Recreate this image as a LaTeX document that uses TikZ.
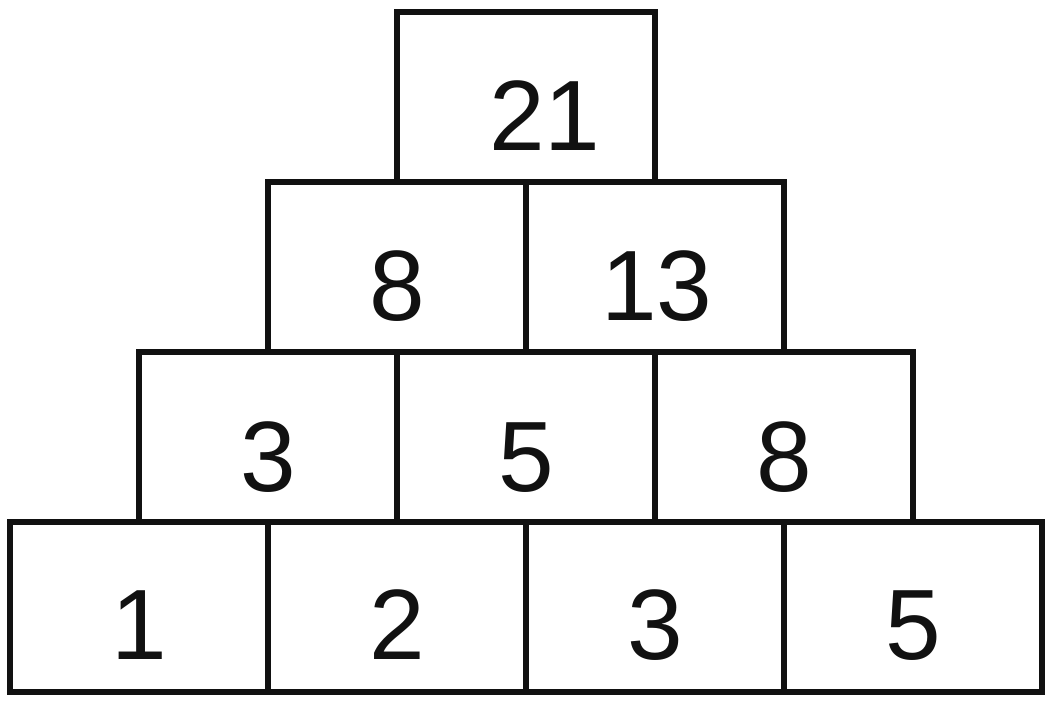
\documentclass[tikz,border=0pt]{standalone}
\usepackage{fontspec}
\setmainfont{Liberation Sans}
\definecolor{ink}{HTML}{111111}
\begin{document}
\begin{tikzpicture}[x=1pt,y=-1pt,
  brick/.style={draw=ink, line width=6pt, rectangle, minimum width=258pt, minimum height=170pt, inner sep=0pt, outer sep=0pt},
  num/.style={anchor=base, text=ink, inner sep=0pt, font=\fontsize{100}{100}\selectfont}]
\useasboundingbox (0,0) rectangle (1056,704);
% bottom row
\node[brick] (b1) at (139,607) {};
\node[brick] (b2) at (397,607) {};
\node[brick] (b3) at (655,607) {};
\node[brick] (b4) at (913,607) {};
% third row
\node[brick] (c1) at (268,437) {};
\node[brick] (c2) at (526,437) {};
\node[brick] (c3) at (784,437) {};
% second row
\node[brick] (d1) at (397,267) {};
\node[brick] (d2) at (655,267) {};
% top
\node[brick] (e1) at (526,97) {};
% numbers
\node[num] (t21) at ([xshift=19pt,yshift=32pt]e1.south) {21};
\node[num] (t8a) at ([yshift=32pt]d1.south) {8};
\node[num] (t13) at ([xshift=2pt,yshift=32pt]d2.south) {13};
\node[num] (t3a) at ([yshift=31pt]c1.south) {3};
\node[num] (t5a) at ([yshift=31pt]c2.south) {5};
\node[num] (t8b) at ([yshift=31pt]c3.south) {8};
\node[num] (t1) at ([yshift=33pt]b1.south) {1};
\node[num] (t2) at ([yshift=33pt]b2.south) {2};
\node[num] (t3b) at ([yshift=33pt]b3.south) {3};
\node[num] (t5b) at ([yshift=33pt]b4.south) {5};
\end{tikzpicture}
\end{document}
